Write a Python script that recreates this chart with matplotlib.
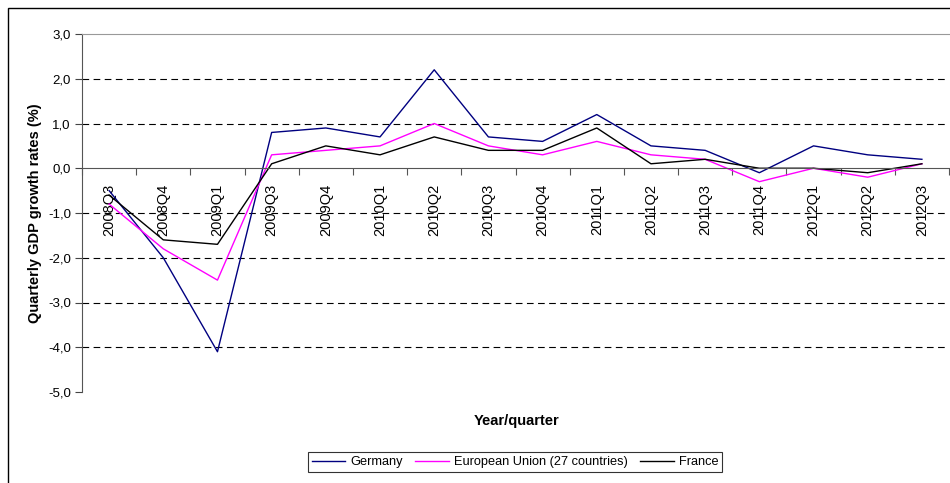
"""
    Quarterly GDP growth rates: Germany, EU27, France
"""

import matplotlib
matplotlib.use('Agg')
import matplotlib.pyplot as plt
from matplotlib.patches import Rectangle
from matplotlib.ticker import FuncFormatter

plt.rcParams['font.family'] = ['Liberation Sans', 'DejaVu Sans']

quarters = ['2008Q3', '2008Q4', '2009Q1', '2009Q3', '2009Q4', '2010Q1',
            '2010Q2', '2010Q3', '2010Q4', '2011Q1', '2011Q2', '2011Q3',
            '2011Q4', '2012Q1', '2012Q2', '2012Q3']
germany = [-0.5, -2.0, -4.1, 0.8, 0.9, 0.7, 2.2, 0.7, 0.6, 1.2, 0.5, 0.4,
           -0.1, 0.5, 0.3, 0.2]
eu27 = [-0.8, -1.8, -2.5, 0.3, 0.4, 0.5, 1.0, 0.5, 0.3, 0.6, 0.3, 0.2,
        -0.3, 0.0, -0.2, 0.1]
france = [-0.6, -1.6, -1.7, 0.1, 0.5, 0.3, 0.7, 0.4, 0.4, 0.9, 0.1, 0.2,
          0.0, 0.0, -0.1, 0.1]
y_ticks = [3, 2, 1, 0, -1, -2, -3, -4, -5]

fig = plt.figure(figsize=(9.5, 4.83), dpi=100)
ax = fig.add_axes([82 / 950, 1 - 392 / 483, 867 / 950, 358 / 483])

x = list(range(len(quarters)))
ax.plot(x, germany, color='#000080', lw=1.0, label='Germany')
ax.plot(x, eu27, color='#ff00ff', lw=1.0, label='European Union (27 countries)')
ax.plot(x, france, color='black', lw=1.0, label='France')

ax.set_xlim(-0.5, len(quarters) - 0.5)
ax.set_ylim(-5, 3)

# dashed gridlines
for y in y_ticks:
    if y not in (3, 0, -5):
        ax.axhline(y, color='black', lw=0.8, dashes=(6, 4), zorder=0)

ax.set_yticks(y_ticks)
ax.yaxis.set_major_formatter(FuncFormatter(lambda v, p: f'{v:.1f}'.replace('.', ',')))
ax.tick_params(axis='y', direction='out', length=5, width=0.8,
               color='#444444', labelsize=9.5, pad=3)

# x axis sits at zero, labels centred on categories, ticks between them
ax.spines['bottom'].set_position(('data', 0))
ax.spines['bottom'].set_color('#555555')
ax.spines['left'].set_color('#555555')
ax.spines['top'].set_color('#999999')
ax.spines['right'].set_visible(False)
ax.set_xticks(x)
ax.set_xticklabels(quarters, rotation=90, fontsize=10.5)
ax.set_xticks([i - 0.5 for i in range(len(quarters) + 1)], minor=True)
ax.tick_params(axis='x', which='major', length=0, pad=11)
ax.tick_params(axis='x', which='minor', direction='out', length=5,
               width=0.8, color='#555555')
for lbl in ax.get_xticklabels():
    lbl.set_verticalalignment('top')

ax.set_ylabel('Quarterly GDP growth rates (%)', fontsize=10.5,
              fontweight='bold', labelpad=4)
fig.text(517 / 950, 1 - 421 / 483, 'Year/quarter', fontsize=10.5,
         fontweight='bold', ha='center', va='center')

leg = fig.legend(loc='center', bbox_to_anchor=(515 / 950, 1 - 462 / 483),
                 ncol=3, fontsize=9.2, frameon=True, fancybox=False,
                 edgecolor='black', handlelength=2.6, handletextpad=0.4,
                 columnspacing=1.0, borderpad=0.3)
leg.get_frame().set_linewidth(0.8)

# outer chart frame
fig.patches.append(Rectangle((8 / 950, -0.1), 1.1, 1 - 8 / 483 + 0.1,
                             transform=fig.transFigure, fill=False,
                             edgecolor='black', lw=1.0))

fig.savefig('out.png', dpi=100)
